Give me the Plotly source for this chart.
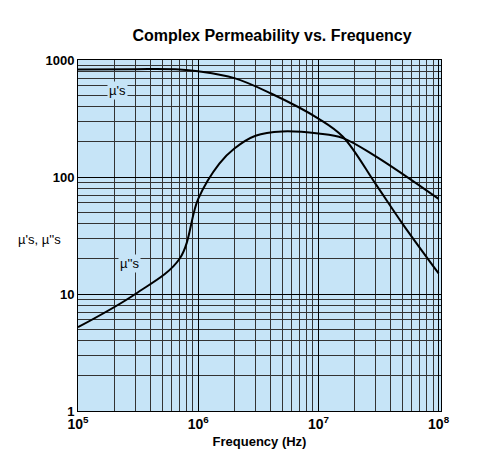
import plotly.graph_objects as go

freq_re = [1e5, 3e5, 7e5, 1e6, 2e6, 4e6, 1e7, 1.6e7, 3e7, 5e7, 1e8]
mu_re = [830, 835, 830, 800, 700, 520, 316, 221, 87, 40, 15]
freq_im = [1e5, 3e5, 7e5, 1e6, 1.5e6, 2e6, 3e6, 5e6, 1e7, 1.6e7, 3e7, 1e8]
mu_im = [5.2, 10, 20, 65, 130, 175, 225, 245, 235, 215, 150, 65]

minor_x = [m * 10 ** e for e in range(5, 8) for m in range(2, 10)]
minor_y = [m * 10 ** e for e in range(0, 3) for m in range(2, 10)]

fig = go.Figure()
for f, m in [(freq_re, mu_re), (freq_im, mu_im)]:
    fig.add_trace(go.Scatter(x=f, y=m, mode='lines', line_shape='spline',
                             line=dict(color='black', width=2), showlegend=False))

fig.add_annotation(x=5.33, y=2.74, xref='x', yref='y', text="µ's", showarrow=False,
                   font=dict(size=13, color='black'), bgcolor='#c6e4f7')
fig.add_annotation(x=5.43, y=1.26, xref='x', yref='y', text="µ''s", showarrow=False,
                   font=dict(size=13, color='black'), bgcolor='#c6e4f7')
fig.add_annotation(x=-0.105, y=0.49, xref='paper', yref='paper', text="µ's, µ''s",
                   showarrow=False, xanchor='center',
                   font=dict(size=13, color='black', family='Arial'))

fig.update_xaxes(type='log', range=[5, 8.02], showline=True, linecolor='black', linewidth=1,
                 mirror=True, tickvals=[1e5, 1e6, 1e7, 1e8],
                 ticktext=['<b>10<sup>5</sup></b>', '<b>10<sup>6</sup></b>',
                           '<b>10<sup>7</sup></b>', '<b>10<sup>8</sup></b>'],
                 gridcolor='black', gridwidth=1, ticks='',
                 minor=dict(tickvals=minor_x, showgrid=True, gridcolor='#333', gridwidth=0.5),
                 title=dict(text='<b>Frequency (Hz)</b>', font=dict(size=13, color='black'),
                            standoff=6),
                 tickfont=dict(size=14, color='black', family='Arial'))
fig.update_yaxes(type='log', range=[0, 3], showline=True, linecolor='black', linewidth=1,
                 mirror=True, tickvals=[1, 10, 100, 1000],
                 ticktext=['<b>1</b>', '<b>10</b>', '<b>100</b>', '<b>1000</b>'],
                 gridcolor='black', gridwidth=1, ticks='',
                 minor=dict(tickvals=minor_y, showgrid=True, gridcolor='#333', gridwidth=0.5),
                 tickfont=dict(size=13, color='black', family='Arial'))
fig.update_layout(
    width=480, height=474,
    title=dict(text='<b>Complex Permeability vs. Frequency</b>', x=0.55, y=0.955,
               font=dict(size=16, color='black', family='Arial')),
    plot_bgcolor='#c6e4f7', paper_bgcolor='white',
    margin=dict(l=70, r=47, t=52, b=71, autoexpand=False),
    font=dict(family='Arial'),
)
fig.write_html("out.html")
